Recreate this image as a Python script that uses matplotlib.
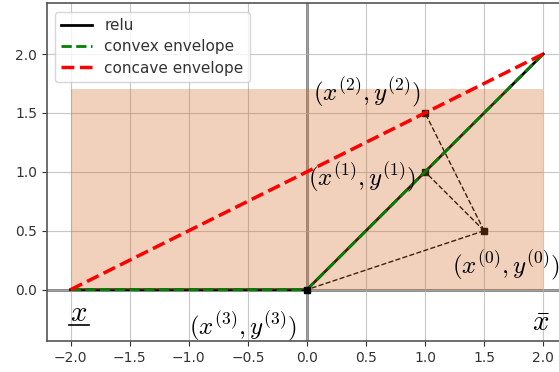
import numpy as np
import matplotlib
matplotlib.use("Agg")
import matplotlib.pyplot as plt
from matplotlib.patches import Rectangle

plt.rcParams["mathtext.fontset"] = "cm"

# input box and relu / envelope vertices
lo, hi = -2.0, 2.0
box_top = 1.7
relu_x = [-2.0, 0.0, 2.0]
relu_y = [0.0, 0.0, 2.0]
concave_x = [-2.0, 2.0]
concave_y = [0.0, 2.0]

# iterates and the segments joining them
pts_x = [1.5, 1.0, 1.0, 0.0]
pts_y = [0.5, 1.0, 1.5, 0.0]
segs = [(0, 2), (0, 1), (0, 3)]
labels = [r"$(x^{(0)}, y^{(0)})$", r"$(x^{(1)}, y^{(1)})$",
          r"$(x^{(2)}, y^{(2)})$", r"$(x^{(3)}, y^{(3)})$"]
label_pos = [(1.23, 0.2), (0.01, 0.95), (0.05, 1.67), (-1.0, -0.32)]

fig = plt.figure(figsize=(5.59, 3.72), dpi=100)
ax = fig.add_axes([0.084, 0.082, 0.93, 0.909])

ax.grid(True, color="#b0b0b0", lw=0.8, alpha=0.7, zorder=0)
ax.axhline(0, color="gray", lw=2, zorder=1)
ax.axvline(0, color="gray", lw=2, zorder=1)

ax.plot(relu_x, relu_y, color="black", lw=2, label="relu", zorder=2)
for i, j in segs:
    ax.plot([pts_x[i], pts_x[j]], [pts_y[i], pts_y[j]], "--", color="black", lw=1, zorder=2)
ax.plot(pts_x[:3], pts_y[:3], "s", color="black", ms=5, zorder=2)

ax.add_patch(Rectangle((lo, 0), hi - lo, box_top, color="chocolate", alpha=0.3, lw=0, zorder=2.5))

ax.plot(relu_x, relu_y, "--", color="green", lw=2, label="convex envelope", zorder=3)
ax.plot(concave_x, concave_y, "--", color="red", lw=2.5, label="concave envelope", zorder=3)
ax.plot(pts_x[3], pts_y[3], "s", color="black", ms=5, zorder=4)

for t, (x, y) in zip(labels, label_pos):
    ax.text(x, y, t, fontsize=18, va="center", ha="left", zorder=5)

# bounds: x with an underline (lower) and a bar (upper)
ax.text(-1.93, -0.2, r"$x$", fontsize=21, ha="center", va="center")
ax.plot([-2.015, -1.845], [-0.3, -0.3], color="black", lw=1.2, clip_on=False)
ax.text(1.98, -0.28, r"$\bar{x}$", fontsize=21, ha="center", va="center")

ax.set_xlim(-2.2, 2.2)
ax.set_ylim(-0.44, 2.43)
ax.set_xticks(np.arange(-2, 2.01, 0.5))
ax.set_yticks(np.arange(0, 2.01, 0.5))
ax.tick_params(labelsize=10, colors="#333333")
for s in ax.spines.values():
    s.set_color("#555555")
    s.set_linewidth(1.2)
leg = ax.legend(loc="upper left", fontsize=11, labelspacing=0.42, borderaxespad=0.55)
for t in leg.get_texts():
    t.set_color("#333333")

fig.savefig("out.png", dpi=100)
